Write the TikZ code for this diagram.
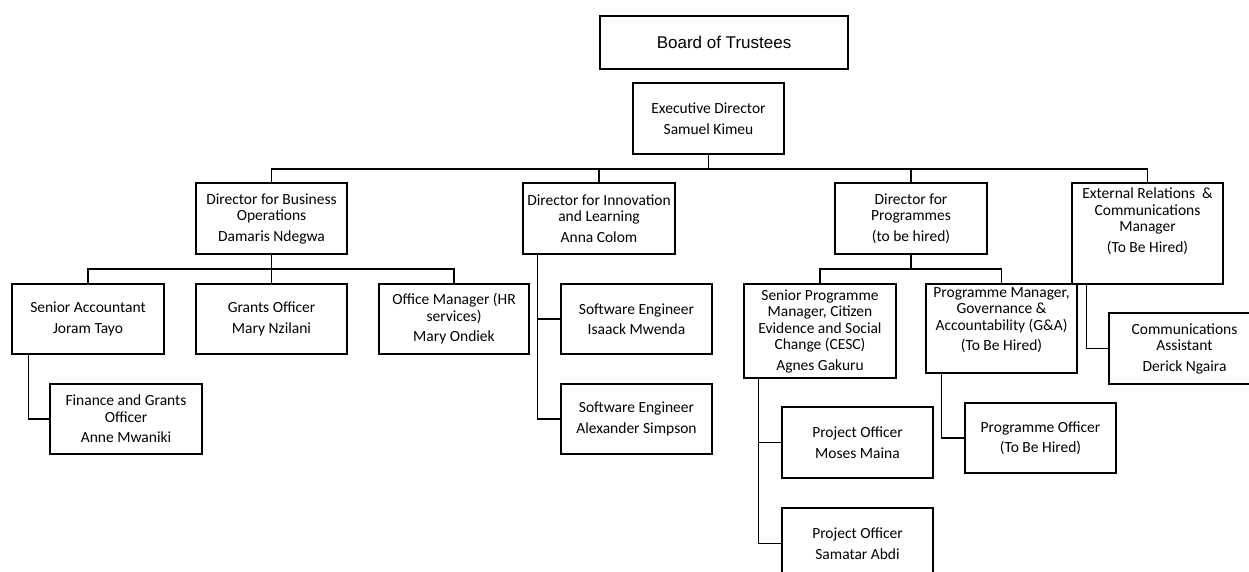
\documentclass[tikz,border=0pt]{standalone}
\usepackage{fontspec}
\setmainfont{Carlito}
\newfontfamily\arialf{Liberation Sans}
\begin{document}
\begin{tikzpicture}[x=1pt,y=-1pt,
  box/.style={draw=black, line width=1.2pt, rectangle, inner sep=0pt, align=center,
    font=\fontsize{15.5}{16.5}\selectfont, text=black},
  txt/.style={inner sep=0pt, align=center, font=\fontsize{15.5}{16.5}\selectfont, text=black},
  conn/.style={draw=black, line width=1.2pt}]
\useasboundingbox (0,0) rectangle (1249,571);
\fill[white] (0,0) rectangle (1249,571);

% boxes: center at midpoint, size from pixel extents
\node[box, minimum width=248pt, minimum height=53pt, font=\arialf\fontsize{17}{20}\selectfont] (board) at (724,42.5) {Board of Trustees};
\node[box, minimum width=151pt, minimum height=71pt] (exec) at (708.5,118.5) {Executive Director\\[4pt]Samuel Kimeu};

\node[box, minimum width=151pt, minimum height=71pt] (dbo) at (271.5,218.5) {Director for Business\\Operations\\[4pt]Damaris Ndegwa};
\node[box, minimum width=152pt, minimum height=71pt] (dil) at (599,218.5) {Director for Innovation\\and Learning\\[4pt]Anna Colom};
\node[box, minimum width=152pt, minimum height=71pt] (dp) at (911,218.5) {Director for\\Programmes\\[4pt](to be hired)};
\node[box, minimum width=151pt, minimum height=101pt] (erc) at (1147.5,233.5) {};
\node[txt] (erct) at (1147.5,221) {External Relations~~\&\\Communications\\Manager\\[4pt](To Be Hired)};

\node[box, minimum width=152pt, minimum height=70pt] (sa) at (88,319) {Senior Accountant\\[4pt]Joram Tayo};
\node[box, minimum width=151pt, minimum height=70pt] (go) at (271.5,319) {Grants Officer\\[4pt]Mary Nzilani};
\node[box, minimum width=150pt, minimum height=70pt] (om) at (454,319) {Office Manager (HR\\services)\\[4pt]Mary Ondiek};
\node[box, minimum width=152pt, minimum height=70pt] (fgo) at (126,419) {Finance and Grants\\Officer\\[4pt]Anne Mwaniki};

\node[box, minimum width=151pt, minimum height=70pt] (se1) at (636.5,319) {Software Engineer\\[4pt]Isaack Mwenda};
\node[box, minimum width=151pt, minimum height=70pt] (se2) at (636.5,419) {Software Engineer\\[4pt]Alexander Simpson};

\node[box, minimum width=152pt, minimum height=94pt] (spm) at (820,331) {Senior Programme\\Manager, Citizen\\Evidence and Social\\Change (CESC)\\[4pt]Agnes Gakuru};
\node[box, minimum width=151pt, minimum height=89pt] (pmga) at (1001.5,328.5) {};
\node[txt] (pmgat) at (1001.5,320) {Programme Manager,\\Governance \&\\Accountability (G\&A)\\[4pt](To Be Hired)};
\node[box, minimum width=151pt, minimum height=71pt] (ca) at (1184.5,348.5) {Communications\\Assistant\\[4pt]Derick Ngaira};

\node[box, minimum width=151pt, minimum height=71pt] (po1) at (857.5,442.5) {Project Officer\\[4pt]Moses Maina};
\node[box, minimum width=151pt, minimum height=71pt] (po2) at (857.5,543.5) {Project Officer\\[4pt]Samatar Abdi};
\node[box, minimum width=151pt, minimum height=70pt] (pro) at (1040.5,438) {Programme Officer\\[4pt](To Be Hired)};

% bus coordinates
\coordinate (b1) at (0,169);
\coordinate (b2) at (0,269);

% executive level
\draw[conn] (exec.south) -- (exec.south |- b1);
\draw[conn] (dbo.north) |- (b1 -| erc.north) -- (erc.north);
\draw[conn] (dil.north) -- (dil.north |- b1);
\draw[conn] (dp.north) -- (dp.north |- b1);

% business operations
\draw[conn] (dbo.south) -- (go.north);
\draw[conn] (sa.north) |- (b2 -| om.north) -- (om.north);
\coordinate (sax) at ([xshift=17pt]sa.south west);
\draw[conn] (sax) |- (fgo.west);

% innovation and learning
\coordinate (dilx) at ([xshift=15pt]dil.south west);
\draw[conn] (dilx) |- (se2.west);
\draw[conn] (se1.west) -- (se1.west -| dilx);

% programmes
\draw[conn] (dp.south) -- (dp.south |- b2);
\draw[conn] (spm.north) |- (b2 -| pmga.north) -- (pmga.north);
\coordinate (spmx) at ([xshift=15pt]spm.south west);
\draw[conn] (spmx) |- (po2.west);
\draw[conn] (po1.west) -- (po1.west -| spmx);
\coordinate (pmgax) at ([xshift=16pt]pmga.south west);
\draw[conn] (pmgax) |- (pro.west);

% external relations
\coordinate (ercx) at ([xshift=15pt]erc.south west);
\draw[conn] (ercx) |- (ca.west);
\end{tikzpicture}
\end{document}
